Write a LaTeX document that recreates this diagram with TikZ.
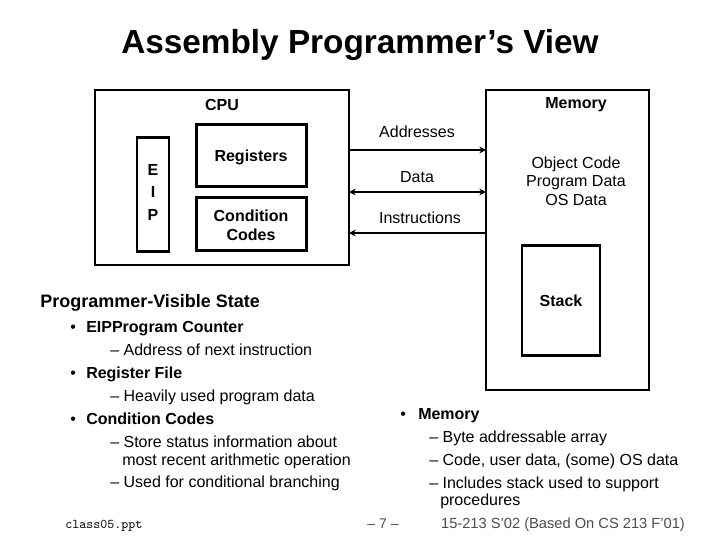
\documentclass[tikz,border=0pt]{standalone}
\usepackage{fontspec}
\setmainfont{Liberation Sans}
\usetikzlibrary{arrows.meta}
\begin{document}
\begin{tikzpicture}[x=0.75pt,y=-0.75pt,
  box/.style={draw,line width=2.2pt},
  lbl/.style={font=\fontsize{12}{14}\selectfont,align=center,inner sep=0},
  blbl/.style={lbl,font=\fontsize{12}{14}\selectfont\bfseries},
  bul/.style={anchor=base west,inner sep=0,font=\fontsize{12}{13}\selectfont},
  bbul/.style={bul,font=\fontsize{12}{13}\selectfont\bfseries},
  bus/.style={line width=2.2pt,arrows={-Stealth[length=5pt,width=5pt]}}]
\useasboundingbox (0,0) rectangle (720,540);
\node[font=\fontsize{25}{30}\selectfont\bfseries,inner sep=0] (title) at (360,45) {Assembly Programmer’s View};
\draw[box] (95,90) rectangle (349,265);
\draw[box] (486,90) rectangle (649,390);
\node[box,minimum width=24pt,minimum height=86pt] (eip) at (153,194.5) {};
\node[box,minimum width=82pt,minimum height=46pt] (reg) at (251.5,155.5) {};
\node[box,minimum width=82pt,minimum height=40pt] (cc) at (251.5,224) {};
\node[box,minimum width=58.5pt,minimum height=82pt] (stack) at (561,300.5) {};
\node[blbl] (cpu) at (222,105) {CPU};
\node[blbl] (mem) at (576,105) {Memory};
\node[blbl] (e) at (153,170) {E};
\node[blbl] (i) at (153,192) {I};
\node[blbl] (p) at (153,215) {P};
\node[blbl] (regt) at (251,157) {Registers};
\node[blbl] (cct) at (251,225) {Condition\\Codes};
\node[lbl] (objt) at (576,181) {Object Code\\Program Data\\OS Data};
\node[blbl] (stt) at (561,301) {Stack};
\coordinate (a1) at (349,150); \coordinate (a2) at (486,150);
\coordinate (d1) at (349,192); \coordinate (d2) at (486,192);
\coordinate (i1) at (349,233); \coordinate (i2) at (486,233);
\draw[bus] (a1) -- (a2);
\draw[bus,arrows={Stealth[length=5pt,width=5pt]-Stealth[length=5pt,width=5pt]}] (d1) -- (d2);
\draw[bus] (i2) -- (i1);
\node[lbl] (addr) at (417,132) {Addresses};
\node[lbl] (data) at (417,177) {Data};
\node[lbl] (instr) at (420,218) {Instructions};
\node[anchor=base west,inner sep=0,font=\fontsize{13.5}{16}\selectfont\bfseries] (pvs) at (40,307) {Programmer-Visible State};
\node[bul] (b1) at (70,332) {•};
\node[bbul] (t1) at (86,332) {EIPProgram Counter};
\node[bul] (t1a) at (110,355) {– Address of next instruction};
\node[bul] (b2) at (70,378) {•};
\node[bbul] (t2) at (86,378) {Register File};
\node[bul] (t2a) at (110,401) {– Heavily used program data};
\node[bul] (b3) at (70,424) {•};
\node[bbul] (t3) at (86,424) {Condition Codes};
\node[bul] (t3a) at (110,447) {– Store status information about};
\node[bul] (t3b) at (122,465) {most recent arithmetic operation};
\node[bul] (t3c) at (110,487) {– Used for conditional branching};
\node[bul] (b4) at (400,419) {•};
\node[bbul] (t4) at (418,419) {Memory};
\node[bul] (t4a) at (429,442) {– Byte addressable array};
\node[bul] (t4b) at (429,465) {– Code, user data, (some) OS data};
\node[bul] (t4c) at (429,488) {– Includes stack used to support};
\node[bul] (t4d) at (440,505) {procedures};
\node[anchor=base west,inner sep=0,font=\ttfamily\fontsize{10}{12}\selectfont] (f1) at (65,528) {class05.ppt};
\node[anchor=base,inner sep=0,font=\fontsize{10.5}{12}\selectfont,text=black!70] (f2) at (383,528) {– 7 –};
\node[anchor=base,inner sep=0,font=\fontsize{11}{12}\selectfont,text=black!70] (f3) at (563,528) {15-213 S’02 (Based On CS 213 F’01)};
\end{tikzpicture}
\end{document}
